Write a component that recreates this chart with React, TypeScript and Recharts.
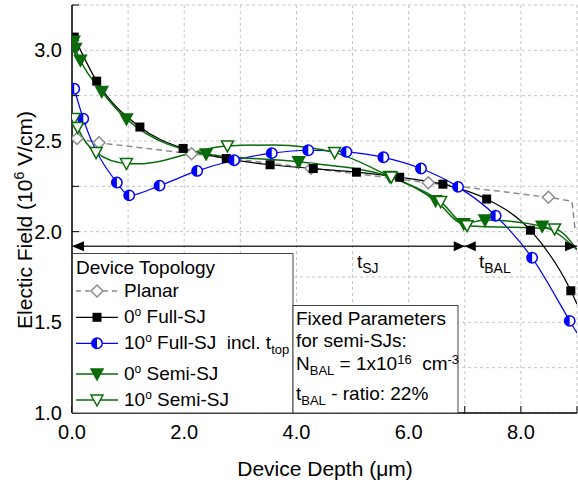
import React from "react";
import {
  LineChart,
  Line,
  XAxis,
  YAxis,
  CartesianGrid,
  ReferenceLine,
  ReferenceDot,
} from "recharts";

const FONT = "'Liberation Sans', Arial, sans-serif";
const GREEN = "#0a6b0a";
const BLUE = "#0000ff";
const GRAY = "#8c8c8c";

const xTicks = [0, 1, 2, 3, 4, 5, 6, 7, 8, 9];
const yTicks = [1, 1.25, 1.5, 1.75, 2, 2.25, 2.5, 2.75, 3, 3.25];

// marked points (symbols) + unmarked points (curve continues to the frame)
const planarX = [0.09, 0.48, 2.13, 4.26, 6.35, 8.49];
const planarY = [2.514, 2.49, 2.43, 2.35, 2.27, 2.19];
const planarEndX = [8.91, 8.97];
const planarEndY = [2.168, 2.0];

const fullSj0X = [0.04, 0.44, 1.21, 1.98, 2.75, 3.53, 4.3, 5.07, 5.84, 6.61, 7.39, 8.17, 8.89];
const fullSj0Y = [3.073, 2.83, 2.577, 2.459, 2.403, 2.369, 2.348, 2.328, 2.3, 2.262, 2.18, 2.008, 1.674];
const fullSj0EndX = [9.0];
const fullSj0EndY = [1.6];

const fullSj10X = [0.04, 0.2, 0.8, 1.02, 1.56, 2.23, 2.89, 3.56, 4.21, 4.89, 5.55, 6.22, 6.88, 7.55, 8.2, 8.87];
const fullSj10Y = [2.788, 2.623, 2.271, 2.2, 2.254, 2.335, 2.394, 2.433, 2.449, 2.44, 2.41, 2.348, 2.247, 2.088, 1.856, 1.508];
const fullSj10EndX = [9.0];
const fullSj10EndY = [1.44];

const semiSj0X = [0.03, 0.06, 0.15, 0.53, 0.97, 2.39, 4.04, 5.66, 6.48, 6.98, 7.36, 8.38];
const semiSj0Y = [3.05, 3.01, 2.945, 2.773, 2.622, 2.428, 2.385, 2.304, 2.171, 2.044, 2.064, 2.03];
const semiSj0EndX = [9.0];
const semiSj0EndY = [1.9];

const semiSj10X = [0.04, 0.1, 0.43, 0.97, 2.77, 4.68, 5.69, 6.57, 7.04, 8.6];
const semiSj10Y = [2.624, 2.575, 2.436, 2.376, 2.473, 2.436, 2.301, 2.166, 2.033, 2.015];
const semiSj10EndX = [1.18, 3.6, 9.0];
const semiSj10EndY = [2.374, 2.478, 1.9];

const arrowY = 1.919;

type Pt = { x: number; y: number; m: boolean };

function build(xs: number[], ys: number[], ex: number[], ey: number[]): Pt[] {
  const pts: Pt[] = xs.map((x, i) => ({ x, y: ys[i], m: true }));
  ex.forEach((x, i) => pts.push({ x, y: ey[i], m: false }));
  return pts.sort((a, b) => a.x - b.x);
}

const planarData = build(planarX, planarY, planarEndX, planarEndY);
const fullSj0Data = build(fullSj0X, fullSj0Y, fullSj0EndX, fullSj0EndY);
const fullSj10Data = build(fullSj10X, fullSj10Y, fullSj10EndX, fullSj10EndY);
const semiSj0Data = build(semiSj0X, semiSj0Y, semiSj0EndX, semiSj0EndY);
const semiSj10Data = build(semiSj10X, semiSj10Y, semiSj10EndX, semiSj10EndY);

const fmtX = (v: number) => (v % 2 === 0 && v < 9 ? v.toFixed(1) : "");
const fmtY = (v: number) => (Math.abs(v * 2 - Math.round(v * 2)) < 1e-6 ? v.toFixed(1) : "");

// symbols
const Diamond = ({ cx, cy }: { cx: number; cy: number }) => (
  <polygon
    points={`${cx},${cy - 6} ${cx + 6},${cy} ${cx},${cy + 6} ${cx - 6},${cy}`}
    fill="#fff"
    stroke={GRAY}
    strokeWidth={1.5}
  />
);
const Square = ({ cx, cy }: { cx: number; cy: number }) => (
  <rect x={cx - 4.5} y={cy - 4.5} width={9} height={9} fill="#000" />
);
const HalfCircle = ({ cx, cy }: { cx: number; cy: number }) => (
  <g>
    <circle cx={cx} cy={cy} r={5.2} fill="#fff" stroke={BLUE} strokeWidth={1.5} />
    <path d={`M${cx},${cy - 5.2} A5.2,5.2 0 0 0 ${cx},${cy + 5.2} Z`} fill={BLUE} />
  </g>
);
const TriDown = ({ cx, cy, open }: { cx: number; cy: number; open?: boolean }) => (
  <polygon
    points={`${cx - 6},${cy - 5} ${cx + 6},${cy - 5} ${cx},${cy + 6}`}
    fill={open ? "#fff" : GREEN}
    stroke={GREEN}
    strokeWidth={1.5}
  />
);

const dotWith = (render: (cx: number, cy: number) => React.ReactElement) => (p: any) =>
  p.payload && p.payload.m ? (
    <g key={`d${p.index}`}>{render(p.cx, p.cy)}</g>
  ) : (
    <g key={`d${p.index}`} />
  );

const ArrowLeft = (p: any) => (
  <polygon points={`${p.cx},${p.cy} ${p.cx + 12},${p.cy - 5} ${p.cx + 12},${p.cy + 5}`} fill="#000" />
);
const ArrowRight = (p: any) => (
  <polygon points={`${p.cx},${p.cy} ${p.cx - 12},${p.cy - 5} ${p.cx - 12},${p.cy + 5}`} fill="#000" />
);
const BowTie = (p: any) => (
  <g>
    <polygon points={`${p.cx},${p.cy} ${p.cx - 11},${p.cy - 5} ${p.cx - 11},${p.cy + 5}`} fill="#000" />
    <polygon points={`${p.cx},${p.cy} ${p.cx + 11},${p.cy - 5} ${p.cx + 11},${p.cy + 5}`} fill="#000" />
  </g>
);

const txt = { fontFamily: FONT, fontSize: 19, fill: "#000" };

function Overlay() {
  const rows = [291, 317.3, 343.3, 374, 400];
  return (
    <svg
      width={578}
      height={483}
      style={{ position: "absolute", left: 0, top: 0, pointerEvents: "none" }}
    >
      {/* axis titles */}
      <text {...txt} fontSize={21} transform="rotate(-90)" x={-220} y={32} textAnchor="middle">
        Electic Field (10
        <tspan fontSize={14} dy={-8}>6</tspan>
        <tspan dy={8}>{"\u00a0V/cm)"}</tspan>
      </text>
      <text {...txt} fontSize={21} x={325} y={476} textAnchor="middle">
        Device Depth (μm)
      </text>

      {/* t_SJ / t_BAL */}
      <text {...txt} x={357} y={268}>
        t<tspan fontSize={14} dy={5}>SJ</tspan>
      </text>
      <text {...txt} x={479} y={268}>
        t<tspan fontSize={14} dy={5}>BAL</tspan>
      </text>

      {/* legend box */}
      <rect x={72.5} y={253.5} width={220.5} height={159.5} fill="#fff" stroke="#444" strokeWidth={1} />
      <text {...txt} x={76} y={274}>Device Topology</text>
      <line x1={76} x2={118} y1={rows[0]} y2={rows[0]} stroke={GRAY} strokeWidth={1.5} strokeDasharray="5 4" />
      <Diamond cx={97} cy={rows[0]} />
      <line x1={76} x2={118} y1={rows[1]} y2={rows[1]} stroke="#000" strokeWidth={1.3} />
      <Square cx={97} cy={rows[1]} />
      <line x1={76} x2={118} y1={rows[2]} y2={rows[2]} stroke={BLUE} strokeWidth={1.3} />
      <HalfCircle cx={97} cy={rows[2]} />
      <line x1={76} x2={118} y1={rows[3]} y2={rows[3]} stroke={GREEN} strokeWidth={1.5} />
      <TriDown cx={97} cy={rows[3]} />
      <line x1={76} x2={118} y1={rows[4]} y2={rows[4]} stroke={GREEN} strokeWidth={1.5} />
      <TriDown cx={97} cy={rows[4]} open />

      <text {...txt} x={124} y={297}>Planar</text>
      <text {...txt} x={124} y={323}>
        0<tspan fontSize={12} dy={-7}>o</tspan>
        <tspan dy={7}>{"\u00a0Full-SJ"}</tspan>
      </text>
      <text {...txt} x={124} y={349}>
        10<tspan fontSize={12} dy={-7}>o</tspan>
        <tspan dy={7}>{"\u00a0Full-SJ\u00a0\u00a0incl. t"}</tspan>
        <tspan fontSize={13} dy={5}>top</tspan>
      </text>
      <text {...txt} x={124} y={380}>
        0<tspan fontSize={12} dy={-7}>o</tspan>
        <tspan dy={7}>{"\u00a0Semi-SJ"}</tspan>
      </text>
      <text {...txt} x={124} y={406}>
        10<tspan fontSize={12} dy={-7}>o</tspan>
        <tspan dy={7}>{"\u00a0Semi-SJ"}</tspan>
      </text>

      {/* parameter box */}
      <rect x={293} y={305.5} width={165} height={107.5} fill="#fff" stroke="#444" strokeWidth={1} />
      <text {...txt} x={296} y={325}>Fixed Parameters</text>
      <text {...txt} x={296} y={347}>for semi-SJs:</text>
      <text {...txt} x={296} y={370}>
        N<tspan fontSize={13} dy={5}>BAL</tspan>
        <tspan dy={-5}>{" = 1x10"}</tspan>
        <tspan fontSize={13} dy={-6}>16</tspan>
        <tspan dy={6}>{"\u00a0\u00a0cm"}</tspan>
        <tspan fontSize={13} dy={-6}>-3</tspan>
      </text>
      <text {...txt} x={296} y={400}>
        t<tspan fontSize={13} dy={5}>BAL</tspan>
        <tspan dy={-5}>{" - ratio: 22%"}</tspan>
      </text>
    </svg>
  );
}

export default function App() {
  return (
    <div style={{ position: "absolute", left: 0, top: 0, width: 578, height: 483, background: "#fff" }}>
      <LineChart width={578} height={483} margin={{ top: 5, right: 1, left: 0, bottom: 0 }}>
        <CartesianGrid stroke="#c4c4c4" strokeDasharray="3 3" />
        <XAxis
          type="number"
          dataKey="x"
          domain={[0, 9]}
          ticks={xTicks}
          interval={0}
          allowDataOverflow
          tickFormatter={fmtX}
          height={70}
          tickSize={-7}
          tickMargin={19}
          tickLine={{ stroke: "#000" }}
          axisLine={{ stroke: "#000", strokeWidth: 1.5 }}
          tick={{ fill: "#000", fontSize: 20, fontFamily: FONT }}
        />
        <XAxis
          xAxisId="top"
          orientation="top"
          type="number"
          domain={[0, 9]}
          ticks={xTicks}
          interval={0}
          height={0}
          tickSize={-7}
          tick={false}
          tickLine={{ stroke: "#000" }}
          axisLine={{ stroke: "#000", strokeWidth: 1.5 }}
        />
        <YAxis
          type="number"
          domain={[1, 3.25]}
          ticks={yTicks}
          interval={0}
          allowDataOverflow
          tickFormatter={fmtY}
          width={72}
          tickSize={-7}
          tickMargin={17}
          tickLine={{ stroke: "#000" }}
          axisLine={{ stroke: "#000", strokeWidth: 1.5 }}
          tick={{ fill: "#000", fontSize: 20, fontFamily: FONT }}
        />
        <YAxis
          yAxisId="right"
          orientation="right"
          type="number"
          domain={[1, 3.25]}
          ticks={yTicks}
          interval={0}
          width={0}
          tickSize={-7}
          tick={false}
          tickLine={{ stroke: "#000" }}
          axisLine={{ stroke: "#000", strokeWidth: 1.5 }}
        />

        <ReferenceLine
          segment={[
            { x: 0, y: arrowY },
            { x: 9, y: arrowY },
          ]}
          stroke="#333"
          strokeWidth={1.5}
        />
        <ReferenceDot x={0} y={arrowY} r={0} shape={ArrowLeft} />
        <ReferenceDot x={7} y={arrowY} r={0} shape={BowTie} />
        <ReferenceDot x={9} y={arrowY} r={0} shape={ArrowRight} />

        <Line
          data={planarData}
          dataKey="y"
          type="linear"
          stroke={GRAY}
          strokeWidth={1.5}
          strokeDasharray="6 4"
          dot={dotWith((cx, cy) => <Diamond cx={cx} cy={cy} />)}
          isAnimationActive={false}
        />
        <Line
          data={fullSj0Data}
          dataKey="y"
          type="monotone"
          stroke="#000"
          strokeWidth={1.2}
          dot={dotWith((cx, cy) => <Square cx={cx} cy={cy} />)}
          isAnimationActive={false}
        />
        <Line
          data={fullSj10Data}
          dataKey="y"
          type="monotone"
          stroke={BLUE}
          strokeWidth={1.2}
          dot={dotWith((cx, cy) => <HalfCircle cx={cx} cy={cy} />)}
          isAnimationActive={false}
        />
        <Line
          data={semiSj0Data}
          dataKey="y"
          type="monotone"
          stroke={GREEN}
          strokeWidth={1.5}
          dot={dotWith((cx, cy) => <TriDown cx={cx} cy={cy} />)}
          isAnimationActive={false}
        />
        <Line
          data={semiSj10Data}
          dataKey="y"
          type="monotone"
          stroke={GREEN}
          strokeWidth={1.5}
          dot={dotWith((cx, cy) => <TriDown cx={cx} cy={cy} open />)}
          isAnimationActive={false}
        />
      </LineChart>
      <Overlay />
    </div>
  );
}
